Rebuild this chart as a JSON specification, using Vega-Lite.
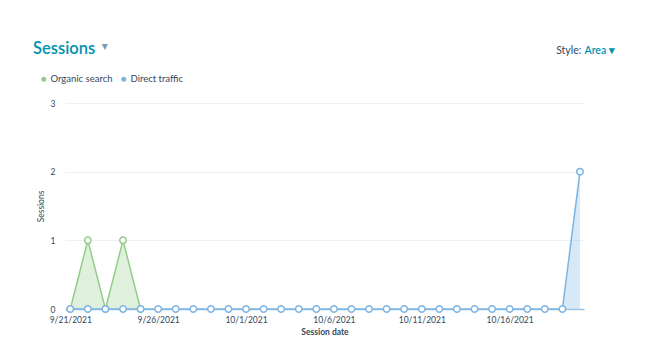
{
  "$schema": "https://vega.github.io/schema/vega-lite/v6.json",
  "width": 519,
  "height": 206,
  "autosize": {"type": "none"},
  "padding": {"left": 65, "top": 103, "right": 66, "bottom": 43},
  "background": "white",
  "title": {
    "text": "Sessions",
    "anchor": "start",
    "frame": "group",
    "dx": -32,
    "offset": -17,
    "font": "Lato",
    "fontSize": 16.5,
    "fontWeight": 600,
    "color": "#0091ae"
  },
  "config": {
    "font": "Lato",
    "view": {"stroke": null},
    "axis": {"labelColor": "#33475b", "titleColor": "#33475b", "labelFontSize": 8.5, "titleFontSize": 8.5, "labelFont": "Lato", "titleFont": "Lato"}
  },
  "datasets": {
    "sessions": [
      {"date": "2021-09-21", "source": "Organic search", "sessions": 0},
      {"date": "2021-09-22", "source": "Organic search", "sessions": 1},
      {"date": "2021-09-23", "source": "Organic search", "sessions": 0},
      {"date": "2021-09-24", "source": "Organic search", "sessions": 1},
      {"date": "2021-09-25", "source": "Organic search", "sessions": 0},
      {"date": "2021-09-21", "source": "Direct traffic", "sessions": 0},
      {"date": "2021-09-22", "source": "Direct traffic", "sessions": 0},
      {"date": "2021-09-23", "source": "Direct traffic", "sessions": 0},
      {"date": "2021-09-24", "source": "Direct traffic", "sessions": 0},
      {"date": "2021-09-25", "source": "Direct traffic", "sessions": 0},
      {"date": "2021-09-26", "source": "Direct traffic", "sessions": 0},
      {"date": "2021-09-27", "source": "Direct traffic", "sessions": 0},
      {"date": "2021-09-28", "source": "Direct traffic", "sessions": 0},
      {"date": "2021-09-29", "source": "Direct traffic", "sessions": 0},
      {"date": "2021-09-30", "source": "Direct traffic", "sessions": 0},
      {"date": "2021-10-01", "source": "Direct traffic", "sessions": 0},
      {"date": "2021-10-02", "source": "Direct traffic", "sessions": 0},
      {"date": "2021-10-03", "source": "Direct traffic", "sessions": 0},
      {"date": "2021-10-04", "source": "Direct traffic", "sessions": 0},
      {"date": "2021-10-05", "source": "Direct traffic", "sessions": 0},
      {"date": "2021-10-06", "source": "Direct traffic", "sessions": 0},
      {"date": "2021-10-07", "source": "Direct traffic", "sessions": 0},
      {"date": "2021-10-08", "source": "Direct traffic", "sessions": 0},
      {"date": "2021-10-09", "source": "Direct traffic", "sessions": 0},
      {"date": "2021-10-10", "source": "Direct traffic", "sessions": 0},
      {"date": "2021-10-11", "source": "Direct traffic", "sessions": 0},
      {"date": "2021-10-12", "source": "Direct traffic", "sessions": 0},
      {"date": "2021-10-13", "source": "Direct traffic", "sessions": 0},
      {"date": "2021-10-14", "source": "Direct traffic", "sessions": 0},
      {"date": "2021-10-15", "source": "Direct traffic", "sessions": 0},
      {"date": "2021-10-16", "source": "Direct traffic", "sessions": 0},
      {"date": "2021-10-17", "source": "Direct traffic", "sessions": 0},
      {"date": "2021-10-18", "source": "Direct traffic", "sessions": 0},
      {"date": "2021-10-19", "source": "Direct traffic", "sessions": 0},
      {"date": "2021-10-20", "source": "Direct traffic", "sessions": 2}
    ]
  },
  "layer": [
    {
      "data": {"name": "sessions"},
      "encoding": {
        "x": {
          "field": "date",
          "type": "temporal",
          "title": "Session date",
          "scale": {
            "type": "utc",
            "nice": false,
            "domain": [
              {"year": 2021, "month": 9, "date": 20, "hours": 16, "minutes": 48, "utc": true},
              {"year": 2021, "month": 10, "date": 20, "hours": 5, "minutes": 30, "utc": true}
            ]
          },
          "axis": {
            "values": [
              {"year": 2021, "month": 9, "date": 21, "utc": true},
              {"year": 2021, "month": 9, "date": 26, "utc": true},
              {"year": 2021, "month": 10, "date": 1, "utc": true},
              {"year": 2021, "month": 10, "date": 6, "utc": true},
              {"year": 2021, "month": 10, "date": 11, "utc": true},
              {"year": 2021, "month": 10, "date": 16, "utc": true}
            ],
            "format": "%-m/%-d/%Y",
            "grid": false,
            "ticks": false,
            "domain": true,
            "domainColor": "#9cc4e6",
            "domainWidth": 1.5,
            "labelPadding": 6,
            "titleFontWeight": "bold",
            "titlePadding": 4
          }
        },
        "y": {
          "field": "sessions",
          "type": "quantitative",
          "title": "Sessions",
          "stack": null,
          "scale": {"domain": [0, 3], "nice": false},
          "axis": {
            "values": [0, 1, 2, 3],
            "format": "d",
            "grid": true,
            "gridColor": "#eef2f6",
            "domain": false,
            "ticks": false,
            "labelPadding": 10,
            "titleFontWeight": "normal",
            "titlePadding": 5
          }
        },
        "color": {
          "field": "source",
          "type": "nominal",
          "sort": ["Organic search", "Direct traffic"],
          "scale": {"domain": ["Organic search", "Direct traffic"], "range": ["#94cc8b", "#7cb5e4"]},
          "legend": {
            "title": null,
            "orient": "none",
            "direction": "horizontal",
            "legendX": -26,
            "legendY": -29,
            "symbolType": "circle",
            "symbolSize": 25,
            "symbolOpacity": 1,
            "symbolStrokeWidth": 0,
            "labelFontSize": 9.5,
            "labelColor": "#33475b",
            "labelOffset": 2,
            "columnPadding": 6
          }
        }
      },
      "layer": [
        {"mark": {"type": "area", "opacity": 0.3}},
        {"mark": {"type": "line", "strokeWidth": 1.5}},
        {"mark": {"type": "point", "shape": "circle", "filled": true, "fill": "white", "size": 42, "strokeWidth": 1.5, "opacity": 1}, "encoding": {"stroke": {"field": "source", "type": "nominal", "scale": {"domain": ["Organic search", "Direct traffic"], "range": ["#94cc8b", "#7cb5e4"]}, "legend": null}}}
      ]
    },
    {
      "data": {"values": [{"t": "Style:"}]},
      "mark": {"type": "text", "align": "right", "baseline": "middle", "fontSize": 10.5, "color": "#33475b", "font": "Lato", "clip": false},
      "encoding": {
        "x": {"datum": {"year": 2021, "month": 10, "date": 20, "hours": 2, "utc": true}, "type": "temporal"},
        "y": {"datum": 3.76, "type": "quantitative"},
        "text": {"field": "t"}
      }
    },
    {
      "data": {"values": [{"t": "Area ▾"}]},
      "mark": {"type": "text", "align": "left", "baseline": "middle", "fontSize": 10.5, "fontWeight": 600, "color": "#0091ae", "font": "Lato", "dx": 3, "clip": false},
      "encoding": {
        "x": {"datum": {"year": 2021, "month": 10, "date": 20, "hours": 2, "utc": true}, "type": "temporal"},
        "y": {"datum": 3.76, "type": "quantitative"},
        "text": {"field": "t"}
      }
    },
    {
      "data": {"values": [{"t": "▾"}]},
      "mark": {"type": "text", "align": "center", "baseline": "middle", "fontSize": 12, "color": "#7c98b6", "font": "DejaVu Sans", "clip": false},
      "encoding": {
        "x": {"datum": {"year": 2021, "month": 9, "date": 22, "hours": 23, "utc": true}, "type": "temporal"},
        "y": {"datum": 3.83, "type": "quantitative"},
        "text": {"field": "t"}
      }
    }
  ]
}
